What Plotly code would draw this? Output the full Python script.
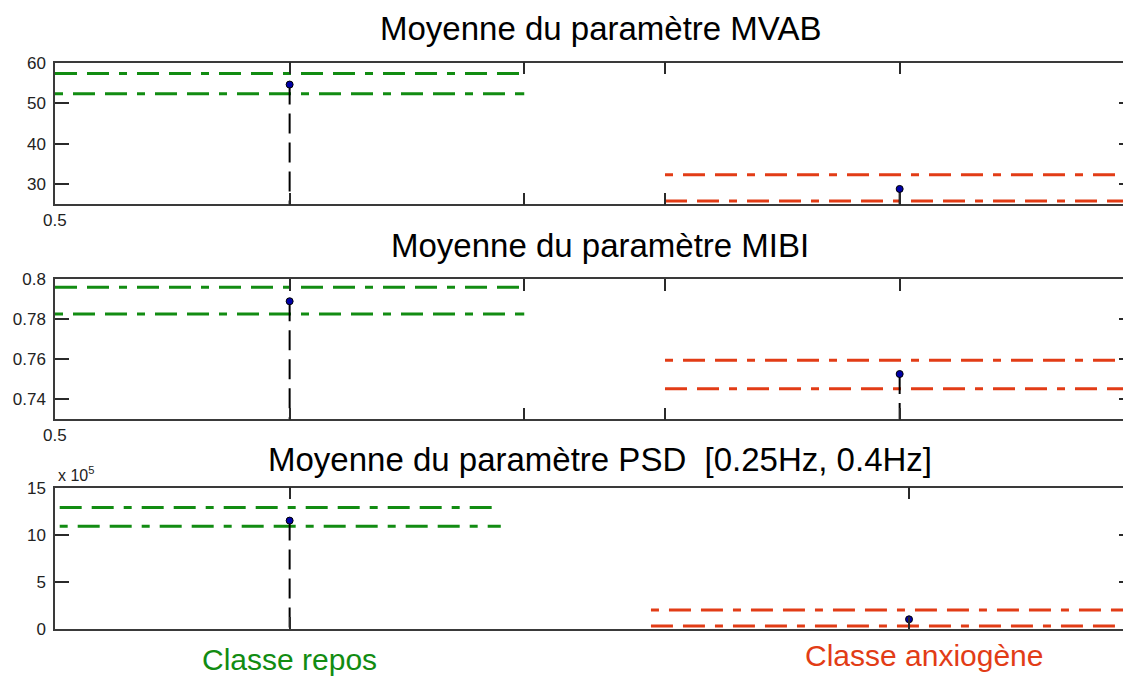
import plotly.graph_objects as go

# ── data ───────────────────────────────────────────────────────────────────
titles = [
    "Moyenne du paramètre MVAB",
    "Moyenne du paramètre MIBI",
    "Moyenne du paramètre PSD\u00a0 [0.25Hz, 0.4Hz]",
]
class_labels = ["Classe repos", "Classe anxiogène"]

# class means (PSD in units of 10^5)
mean_repos = [54.6, 0.7889, 11.5]
mean_anx = [28.8, 0.7526, 1.0]
# lower / upper dashed bounds around each mean
low_repos = [52.3, 0.7825, 10.9]
high_repos = [57.3, 0.7959, 12.9]
low_anx = [25.8, 0.7453, 0.3]
high_anx = [32.3, 0.7594, 2.0]

# x positions (category axis, 0.5 … ~2.8)
x_repos = [1.0, 1.0, 1.0]
x_anx = [2.3, 2.3, 2.32]
repos_span = [(0.5, 1.5), (0.5, 1.5), (0.51, 1.45)]
anx_span = [(1.8, 2.85), (1.8, 2.85), (1.77, 2.85)]

y_ranges = [(25, 60), (0.73, 0.80), (0, 15)]
y_ticks = [[30, 40, 50, 60], [0.74, 0.76, 0.78, 0.8], [0, 5, 10, 15]]
y_ticktext = [["30", "40", "50", "60"], ["0.74", "0.76", "0.78", "0.8"],
              ["0", "5", "10", "15"]]
x_ticks = [[0.5, 1.0, 1.5, 1.8, 2.3], [0.5, 1.0, 1.5, 1.8, 2.3], [1.0, 2.32]]
x_start_label = [True, True, False]   # "0.5" under the left corner

GREEN = "#128c12"
RED = "#e23c16"
FONT = "Liberation Sans, Arial, sans-serif"

# the page body adds an 8px margin, so the figure is shrunk by that much
OFF = 8
W, H = 1131 - OFF, 677 - OFF
L = 55 - OFF


def px(x):   # screen x (px) -> paper x
    return (x - OFF - L) / (W - L)


def py(y):   # screen y (px) -> paper y
    return 1 - (y - OFF) / H


panel_px = [(62.7, 204.3), (279, 419.3), (487.7, 628.7)]
domains = [(py(b), py(t)) for t, b in panel_px]

dash_a = "22px,10px,22px,10px,8px,10px"
dash_b = "8px,10px,22px,10px,22px,10px"
stem_dash = "20px,9px"

fig = go.Figure()

for i in range(3):
    xa = "x" if i == 0 else f"x{i + 1}"
    ya = "y" if i == 0 else f"y{i + 1}"
    ymin = y_ranges[i][0]

    for v, d in ((high_repos[i], dash_a), (low_repos[i], dash_b)):
        fig.add_trace(go.Scatter(
            x=list(repos_span[i]), y=[v, v], mode="lines",
            line=dict(color=GREEN, width=3, dash=d),
            xaxis=xa, yaxis=ya, showlegend=False, hoverinfo="skip"))
    for v, d in ((high_anx[i], dash_b), (low_anx[i], dash_a)):
        fig.add_trace(go.Scatter(
            x=list(anx_span[i]), y=[v, v], mode="lines",
            line=dict(color=RED, width=3, dash=d),
            xaxis=xa, yaxis=ya, showlegend=False, hoverinfo="skip"))

    # dashed stems from each mean down to the axis
    for xc, m in ((x_repos[i], mean_repos[i]), (x_anx[i], mean_anx[i])):
        fig.add_trace(go.Scatter(
            x=[xc, xc], y=[m, ymin], mode="lines",
            line=dict(color="black", width=2, dash=stem_dash),
            xaxis=xa, yaxis=ya, showlegend=False, hoverinfo="skip"))

    fig.add_trace(go.Scatter(
        x=[x_repos[i], x_anx[i]], y=[mean_repos[i], mean_anx[i]],
        mode="markers",
        marker=dict(size=7, color="#0000a8", line=dict(color="black", width=1)),
        xaxis=xa, yaxis=ya, showlegend=False))

    # empty trace so the right-hand tick axis gets drawn
    fig.add_trace(go.Scatter(x=[None], y=[None], xaxis=xa, yaxis=f"y{i + 4}",
                             showlegend=False, hoverinfo="skip"))

    axis_common = dict(showgrid=False, zeroline=False, showline=True,
                       linecolor="#3a3a3a", linewidth=1.5, ticks="inside",
                       tickcolor="#2a2a2a", tickwidth=1.5, automargin=False,
                       tickfont=dict(family=FONT, size=17, color="#222"))
    fig.layout[f"xaxis{i + 1}"] = dict(
        axis_common, domain=[0, 1], anchor=ya, range=[0.5, 2.793],
        tickmode="array", tickvals=x_ticks[i], showticklabels=False,
        ticklen=12, mirror="ticks", fixedrange=True)
    fig.layout[f"yaxis{i + 1}"] = dict(
        axis_common, domain=list(domains[i]), anchor=xa,
        range=list(y_ranges[i]), tickmode="array", tickvals=y_ticks[i],
        ticktext=y_ticktext[i], ticklen=14, ticklabelstandoff=4)
    fig.layout[f"yaxis{i + 4}"] = dict(
        overlaying=ya, side="right", anchor=xa, range=list(y_ranges[i]),
        tickmode="array", tickvals=y_ticks[i], showticklabels=False,
        ticks="inside", ticklen=12, tickcolor="#2a2a2a", tickwidth=1.5,
        showgrid=False, zeroline=False, showline=False, automargin=False)

    if x_start_label[i]:
        fig.add_annotation(text="0.5", xref=xa, yref="paper",
                           x=x_ticks[i][0], y=py(panel_px[i][1] + 16),
                           showarrow=False, xanchor="center", yanchor="middle",
                           font=dict(family=FONT, size=17, color="#222"))

title_y = [28, 245, 459]
for t, ypx in zip(titles, title_y):
    fig.add_annotation(text=t, xref="paper", yref="paper",
                       x=px(600), y=py(ypx),
                       showarrow=False, xanchor="center", yanchor="middle",
                       font=dict(family=FONT, size=33, color="black"))

fig.add_annotation(text="x 10<sup>5</sup>", xref="paper", yref="paper",
                   x=px(56), y=py(474), showarrow=False,
                   xanchor="left", yanchor="middle",
                   font=dict(family=FONT, size=16, color="#222"))

fig.add_annotation(text=class_labels[0], xref="paper", yref="paper",
                   x=px(289), y=py(659), showarrow=False,
                   xanchor="center", yanchor="middle",
                   font=dict(family=FONT, size=30, color=GREEN))
fig.add_annotation(text=class_labels[1], xref="paper", yref="paper",
                   x=px(924), y=py(655), showarrow=False,
                   xanchor="center", yanchor="middle",
                   font=dict(family=FONT, size=30, color=RED))

fig.update_layout(
    template="none",
    width=W, height=H, autosize=False,
    margin=dict(l=L, r=0, t=0, b=0, autoexpand=False),
    paper_bgcolor="white", plot_bgcolor="white",
    showlegend=False,
)

fig.write_html("out.html")
